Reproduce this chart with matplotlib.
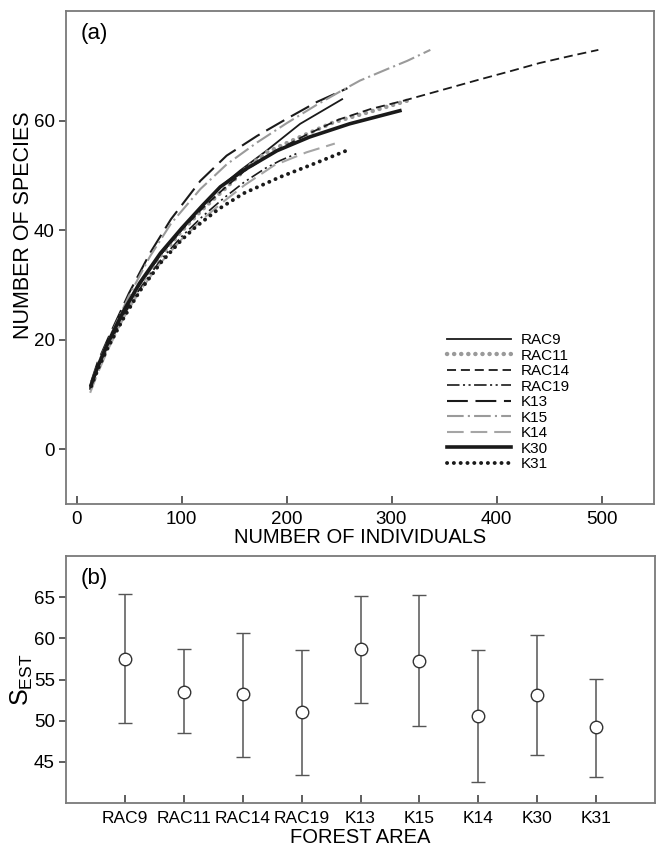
import matplotlib
matplotlib.use("Agg")
import matplotlib.pyplot as plt

plt.rcParams['font.family'] = ['Liberation Sans', 'DejaVu Sans']
plt.rcParams['lines.scale_dashes'] = False
plt.rcParams['mathtext.fontset'] = 'custom'
plt.rcParams['mathtext.rm'] = 'Liberation Sans'

# ---- panel (a): rarefaction curves ----
rac9_n = [13, 20, 30, 45, 60, 80, 100, 120, 137, 156, 181, 213, 253]
rac9_s = [11.0, 14.5, 19.0, 25.0, 30.0, 35.5, 40.0, 44.5, 47.9, 50.9, 54.5, 59.4, 63.9]

rac11_n = [14, 20, 30, 45, 60, 80, 100, 120, 140, 160, 181, 213, 245, 283, 318]
rac11_s = [11.5, 14.5, 19.0, 24.8, 29.8, 35.3, 39.8, 43.8, 47.3, 51.0, 54.2, 57.0, 59.7, 61.8, 63.8]

rac14_n = [13, 20, 30, 45, 60, 80, 100, 120, 140, 160, 190, 220, 250, 280, 311, 356, 384, 413, 441, 473, 497]
rac14_s = [11.2, 14.8, 19.3, 25.0, 30.0, 35.5, 40.0, 44.0, 47.5, 50.8, 54.5, 57.5, 60.2, 62.1, 63.6, 66.0, 67.5, 69.0, 70.5, 71.9, 72.9]

rac19_n = [13, 20, 30, 45, 60, 80, 100, 120, 140, 160, 180, 194, 210]
rac19_s = [11.0, 14.3, 18.7, 24.5, 29.2, 34.5, 38.8, 42.5, 45.8, 48.8, 51.3, 52.7, 54.0]

k13_n = [14, 20, 30, 50, 70, 90, 118, 143, 172, 200, 229, 258]
k13_s = [12.3, 15.8, 20.2, 28.5, 35.8, 42.0, 49.0, 53.6, 57.2, 60.3, 63.4, 65.9]

k15_n = [14, 20, 30, 50, 70, 90, 118, 143, 172, 200, 229, 251, 270, 296, 315, 337]
k15_s = [12.0, 15.5, 19.8, 28.0, 35.2, 41.2, 47.5, 52.0, 56.0, 59.5, 62.9, 65.3, 67.3, 69.4, 70.9, 72.9]

k14_n = [13, 20, 30, 45, 60, 80, 100, 120, 140, 160, 188, 219, 246]
k14_s = [10.3, 13.8, 18.2, 24.0, 28.8, 34.0, 38.3, 42.0, 45.2, 48.2, 51.8, 54.2, 55.8]

k30_n = [14, 20, 30, 45, 60, 80, 100, 120, 137, 159, 191, 222, 260, 308]
k30_s = [11.8, 15.0, 19.5, 25.3, 30.3, 35.8, 40.3, 44.5, 47.9, 50.9, 54.5, 57.0, 59.4, 61.8]

k31_n = [14, 20, 30, 45, 60, 80, 100, 113, 135, 159, 194, 226, 257]
k31_s = [11.5, 14.5, 18.6, 24.0, 28.8, 34.0, 38.2, 40.5, 43.8, 46.7, 49.7, 52.1, 54.5]

# ---- panel (b): estimated species richness ----
areas = ['RAC9', 'RAC11', 'RAC14', 'RAC19', 'K13', 'K15', 'K14', 'K30', 'K31']
s_est = [57.5, 53.5, 53.2, 51.0, 58.7, 57.3, 50.6, 53.1, 49.2]
s_upper = [65.4, 58.7, 60.6, 58.6, 65.1, 65.3, 58.6, 60.4, 55.1]
s_lower = [49.7, 48.5, 45.6, 43.4, 52.1, 49.4, 42.5, 45.8, 43.2]

x_ticks_a = [0, 100, 200, 300, 400, 500]
y_ticks_a = [0, 20, 40, 60]
y_ticks_b = [45, 50, 55, 60, 65]

BLK = '#1a1a1a'
GRY = '#9a9a9a'
SPINE = '#7a7a7a'

fig = plt.figure(figsize=(6.56, 8.48), dpi=100)
W, H = 656, 848
axa = fig.add_axes([66 / W, 1 - 504 / H, (654 - 66) / W, (504 - 11) / H])
axb = fig.add_axes([66 / W, 1 - 803 / H, (655 - 66) / W, (803 - 556) / H])

series = [
    ('RAC9', rac9_n, rac9_s, dict(color=BLK, lw=1.3, ls='-')),
    ('RAC11', rac11_n, rac11_s, dict(color=GRY, lw=3.2, ls=(0, (0.1, 5.0)), dash_capstyle='round')),
    ('RAC14', rac14_n, rac14_s, dict(color=BLK, lw=1.3, ls=(0, (6.5, 3.5)))),
    ('RAC19', rac19_n, rac19_s, dict(color=BLK, lw=1.2, ls=(0, (9, 2.5, 1.5, 2.5, 1.5, 2.5)))),
    ('K13', k13_n, k13_s, dict(color=BLK, lw=1.5, ls=(0, (15, 5.5)))),
    ('K15', k15_n, k15_s, dict(color=GRY, lw=1.5, ls=(0, (12, 3, 1.5, 3)))),
    ('K14', k14_n, k14_s, dict(color='#a5a5a5', lw=1.5, ls=(0, (12, 5)))),
    ('K30', k30_n, k30_s, dict(color=BLK, lw=2.6, ls='-')),
    ('K31', k31_n, k31_s, dict(color=BLK, lw=2.8, ls=(0, (0.1, 4.8)), dash_capstyle='round')),
]
for name, n, s, st in series:
    axa.plot(n, s, label=name, **st)

axa.set_xlim(-10, 550)
axa.set_ylim(-10, 80)
axa.set_xticks(x_ticks_a)
axa.set_yticks(y_ticks_a)
axa.tick_params(axis='x', direction='in', length=6, width=1.1, labelsize=13.5, pad=5, color='#333333')
axa.tick_params(axis='y', direction='out', length=5, width=1.1, labelsize=13.5, pad=3, color='#333333')
axa.set_xlabel('NUMBER OF INDIVIDUALS', fontsize=14.5, labelpad=0)
axa.set_ylabel('NUMBER OF SPECIES', fontsize=15.5)
axa.yaxis.set_label_coords(-0.055, 0.566)
axa.text(0.025, 0.955, '(a)', transform=axa.transAxes, fontsize=16, va='center', ha='left')
for sp in axa.spines.values():
    sp.set_color(SPINE)
    sp.set_linewidth(1.3)

leg = axa.legend(loc='upper left', bbox_to_anchor=((447 - 66) / 588, 1 - (333 - 11) / 493),
                 frameon=False, fontsize=11, handlelength=4.2, handletextpad=0.6,
                 labelspacing=0.1, borderpad=0, borderaxespad=0)

# panel (b)
pos = list(range(1, len(areas) + 1))
yerr = [[m - lo for m, lo in zip(s_est, s_lower)], [hi - m for m, hi in zip(s_est, s_upper)]]
axb.errorbar(pos, s_est, yerr=yerr, fmt='o', color='#555555', ecolor='#555555', elinewidth=1.1,
             capsize=5, capthick=1.1, markersize=9, markerfacecolor='white',
             markeredgecolor='#333333', markeredgewidth=1.0)
axb.set_xlim(0, 10)
axb.set_ylim(40, 70)
axb.set_xticks(pos)
axb.set_xticklabels(areas)
axb.set_yticks(y_ticks_b)
axb.tick_params(axis='x', direction='in', length=6, width=1.1, labelsize=12.5, pad=6, color='#333333')
axb.tick_params(axis='y', direction='out', length=5, width=1.1, labelsize=13.5, pad=3, color='#333333')
axb.set_xlabel('FOREST AREA', fontsize=14.5, labelpad=1)
axb.set_ylabel(r'$\mathrm{S}_{\mathrm{EST}}$', fontsize=18)
axb.yaxis.set_label_coords(-0.053, 0.5)
axb.text(0.025, 0.91, '(b)', transform=axb.transAxes, fontsize=16, va='center', ha='left')
for sp in axb.spines.values():
    sp.set_color(SPINE)
    sp.set_linewidth(1.3)

fig.savefig('out.png', dpi=100)
